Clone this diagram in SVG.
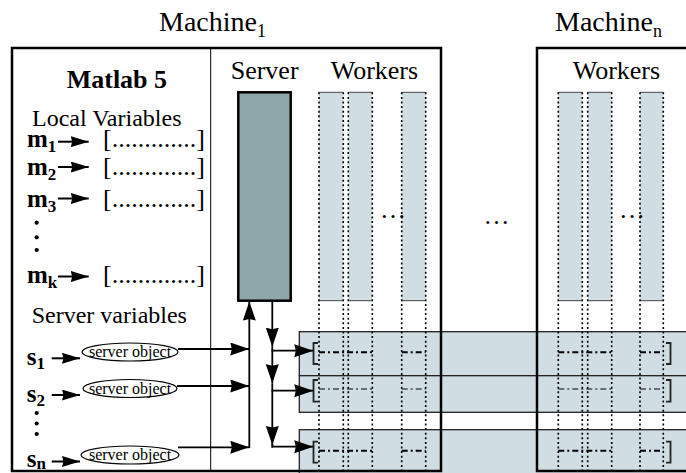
<svg xmlns="http://www.w3.org/2000/svg" width="686" height="473" viewBox="0 0 686 473">
<style>
text{font-family:"Liberation Serif","Times New Roman",serif;fill:#000}
.t28{font-size:28px}
.lbl{font-size:26px}
.lbl24{font-size:24px}
.bold{font-weight:bold}
.var{font-size:25px;font-weight:bold}
.sub{font-size:17px}
.br{font-size:26px}
.obj{font-size:16px}
.box{fill:none;stroke:#000;stroke-width:2.5}
.wcol{fill:#d0dde3;stroke:none}
.wedge{stroke:#444;stroke-width:1}
.dot{stroke:#000;stroke-width:1.6;stroke-dasharray:2 2.6;fill:none}
.band{fill:#d0dde3;stroke:#222;stroke-width:1.3}
.dd{stroke:#000;fill:none;stroke-dasharray:6 3 2 3}
.brk{fill:none;stroke:#222;stroke-width:1.8}
.con{stroke:#000;stroke-width:1.8;fill:none}
.sm{stroke:#000;stroke-width:2;fill:none}
</style>
<defs>
<marker id="ah" markerUnits="userSpaceOnUse" markerWidth="20" markerHeight="13" refX="19" refY="6.5" orient="auto" viewBox="0 0 20 13">
<path d="M0,0 L19,6.5 L0,13 L1.5,6.5 z" fill="#000"/>
</marker>
<marker id="ahs" markerUnits="userSpaceOnUse" markerWidth="19" markerHeight="11" refX="18" refY="5.5" orient="auto" viewBox="0 0 19 11">
<path d="M0,0 L18,5.5 L0,11 L1.5,5.5 z" fill="#000"/>
</marker>
</defs>

<!-- bands across machines -->
<g id="bands">
<rect class="band" x="299.3" y="331.7" width="400" height="44"/>
<rect class="band" x="299.3" y="375.7" width="400" height="36.6"/>
<rect class="band" x="299.3" y="429.7" width="400" height="50"/>
</g>

<g id="machine1">
<text class="t28" x="159" y="31">Machine<tspan class="sub" dy="6" style="font-size:18px">1</tspan></text>
<rect class="box" x="12" y="48" width="429" height="423"/>
<line x1="210.7" y1="48" x2="210.7" y2="471" stroke="#000" stroke-width="1"/>
</g>

<g id="machinen">
<text class="t28" x="555" y="31">Machine<tspan class="sub" dy="6" style="font-size:18px">n</tspan></text>
<rect class="box" x="537" y="48" width="200" height="423"/>
</g>

<g id="matlab">
<text class="lbl bold" x="66.7" y="88">Matlab 5</text>
<text class="lbl24" x="32" y="125.5">Local Variables</text>
<text class="var" x="27" y="146.7">m<tspan class="sub" dy="5">1</tspan></text>
<text class="var" x="27" y="175">m<tspan class="sub" dy="5">2</tspan></text>
<text class="var" x="27" y="206.7">m<tspan class="sub" dy="5">3</tspan></text>
<text class="var" x="27" y="283.3">m<tspan class="sub" dy="5">k</tspan></text>
<text class="br" x="103" y="147">[.............]</text>
<text class="br" x="103" y="175">[.............]</text>
<text class="br" x="103" y="206.7">[.............]</text>
<text class="br" x="103" y="283.3">[.............]</text>
<circle cx="36.7" cy="222.7" r="2.1"/>
<circle cx="36.7" cy="237.3" r="2.1"/>
<circle cx="36.7" cy="250" r="2.1"/>
<line class="sm" x1="58" y1="141.7" x2="88.7" y2="141.7" marker-end="url(#ahs)"/>
<line class="sm" x1="58" y1="167" x2="88.7" y2="167" marker-end="url(#ahs)"/>
<line class="sm" x1="58" y1="198.5" x2="88.7" y2="198.5" marker-end="url(#ahs)"/>
<line class="sm" x1="58" y1="276.5" x2="88.7" y2="276.5" marker-end="url(#ahs)"/>
<text class="lbl24" x="31.7" y="323.3">Server variables</text>
<text class="var" x="26.7" y="365">s<tspan class="sub" dy="4">1</tspan></text>
<text class="var" x="26.7" y="401.7">s<tspan class="sub" dy="4">2</tspan></text>
<text class="var" x="26.7" y="466.5">s<tspan class="sub" dy="2">n</tspan></text>
<circle cx="36.7" cy="413" r="2.1"/>
<circle cx="36.7" cy="423.5" r="2.1"/>
<circle cx="36.7" cy="434" r="2.1"/>
<line class="sm" x1="51.7" y1="358.3" x2="80" y2="358.3" marker-end="url(#ahs)"/>
<line class="sm" x1="51.7" y1="395" x2="80" y2="395" marker-end="url(#ahs)"/>
<line class="sm" x1="51.7" y1="461.5" x2="80" y2="461.5" marker-end="url(#ahs)"/>
</g>

<g id="objects">
<ellipse cx="130" cy="352" rx="48" ry="9" fill="#fff" stroke="#000" stroke-width="1.2"/>
<text class="obj" x="130" y="357" text-anchor="middle">server object</text>
<ellipse cx="130" cy="388.5" rx="47" ry="9" fill="#fff" stroke="#000" stroke-width="1.2"/>
<text class="obj" x="130" y="393.5" text-anchor="middle">server object</text>
<ellipse cx="130" cy="455" rx="49" ry="9" fill="#fff" stroke="#000" stroke-width="1.2"/>
<text class="obj" x="130" y="460" text-anchor="middle">server object</text>
</g>

<g id="server">
<text class="lbl" x="230.7" y="79.3">Server</text>
<rect x="238.3" y="92.3" width="52.4" height="208.4" fill="#8fa6ab" stroke="#000" stroke-width="2.5"/>
</g>

<g id="workers1">
<text class="lbl" x="330.7" y="79.3">Workers</text>
<rect class="wcol" x="319" y="92.3" width="24.3" height="208.4"/>
<rect class="wcol" x="348.3" y="92.3" width="24" height="208.4"/>
<rect class="wcol" x="401.7" y="92.3" width="24" height="208.4"/>
<path class="wedge" d="M319,92.3H343.3M348.3,92.3H372.3M401.7,92.3H425.7M319,300.7H343.3M348.3,300.7H372.3M401.7,300.7H425.7"/>
<text class="lbl" x="380" y="218">…</text>
</g>

<g id="workersn">
<text class="lbl" x="572.7" y="79.3">Workers</text>
<rect class="wcol" x="558.3" y="92.3" width="24" height="208.4"/>
<rect class="wcol" x="587.7" y="92.3" width="24" height="208.4"/>
<rect class="wcol" x="640" y="92.3" width="23.3" height="208.4"/>
<path class="wedge" d="M558.3,92.3H582.3M587.7,92.3H611.7M640,92.3H663.3M558.3,300.7H582.3M587.7,300.7H611.7M640,300.7H663.3"/>
<text class="lbl" x="619" y="218">…</text>
</g>

<text class="lbl" x="483.5" y="224">…</text>

<g id="dotted">
<path class="dot" d="M319,92.3V471M343.3,92.3V471M348.3,92.3V471M372.3,92.3V471M401.7,92.3V471M425.7,92.3V471"/>
<path class="dot" d="M558.3,92.3V471M582.3,92.3V471M587.7,92.3V471M611.7,92.3V471M640,92.3V471M663.3,92.3V471"/>
</g>

<g id="bandcontent">
<path class="dd" stroke-width="2" d="M319,352.3H372.3M401.7,352.3H425.7M558.3,352.3H611.7M640,352.3H663.3"/>
<path class="dd" stroke-width="1" d="M319,389H372.3M401.7,389H425.7M558.3,389H611.7M640,389H663.3"/>
<path class="dd" stroke-width="2" d="M319,450.7H372.3M401.7,450.7H425.7M558.3,450.7H611.7M640,450.7H663.3"/>
<path class="brk" d="M318,343H313.5V364H318M666,343H670.5V364H666"/>
<path class="brk" d="M318,380H313.5V401.7H318M666,380H670.5V401.7H666"/>
<path class="brk" d="M318,441.7H313.5V462.7H318M666,441.7H670.5V462.7H666"/>
</g>

<g id="connectors">
<line class="con" x1="178" y1="349" x2="249.3" y2="349" marker-end="url(#ah)"/>
<line class="con" x1="177" y1="386" x2="249.3" y2="386" marker-end="url(#ah)"/>
<line class="con" x1="178" y1="447.3" x2="249.3" y2="447.3" marker-end="url(#ah)"/>
<line class="con" x1="249.3" y1="448" x2="249.3" y2="301.5" marker-end="url(#ah)"/>
<line class="con" x1="272.3" y1="301.5" x2="272.3" y2="346.7" marker-end="url(#ah)"/>
<line class="con" x1="272.3" y1="346.7" x2="272.3" y2="383.3" marker-end="url(#ah)"/>
<line class="con" x1="272.3" y1="383.3" x2="272.3" y2="445" marker-end="url(#ah)"/>
<line class="con" x1="272.3" y1="444" x2="272.3" y2="447.5"/>
<line class="con" x1="271.5" y1="350.7" x2="313.3" y2="350.7" marker-end="url(#ah)"/>
<line class="con" x1="271.5" y1="390.7" x2="313.3" y2="390.7" marker-end="url(#ah)"/>
<line class="con" x1="271.5" y1="446.7" x2="313.3" y2="446.7" marker-end="url(#ah)"/>
</g>
</svg>
